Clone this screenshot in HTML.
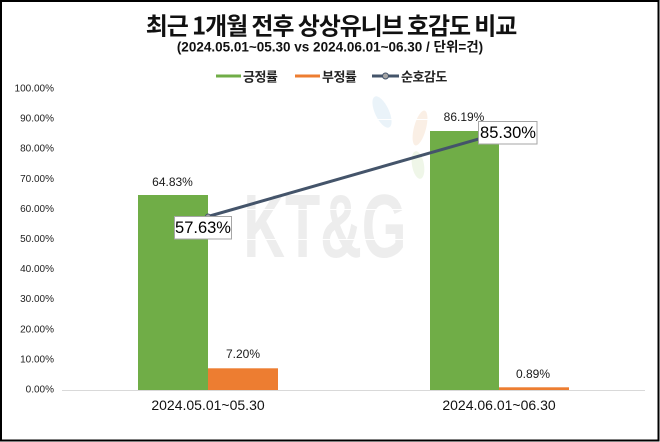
<!DOCTYPE html>
<html>
<head>
<meta charset="utf-8">
<style>
html,body{margin:0;padding:0;background:#fff;}
body{width:660px;height:442px;overflow:hidden;}
svg{display:block;}
.t{font-family:"Liberation Sans","Noto Sans CJK KR",sans-serif;}
.k{font-family:"Noto Sans CJK KR","Liberation Sans",sans-serif;}
</style>
</head>
<body>
<svg width="660" height="442" viewBox="0 0 660 442" xmlns="http://www.w3.org/2000/svg">
  <rect x="0" y="0" width="660" height="442" fill="#fff"/>
  <!-- watermark -->
  <g opacity="0.5">
    <ellipse cx="382" cy="112" rx="7" ry="17" fill="#d6e8f5" transform="rotate(-25 382 112)"/>
    <ellipse cx="420" cy="128" rx="6" ry="18" fill="#f7e0cc" transform="rotate(15 420 128)"/>
    <ellipse cx="418" cy="165" rx="6" ry="14" fill="#e0efd3" transform="rotate(-10 418 165)"/>
  </g>
  <g transform="translate(325 0) scale(0.64 1)">
    <text x="0" y="257" text-anchor="middle" class="t" font-size="90" font-weight="bold" fill="#ededed">KT&amp;G</text>
  </g>
  <!-- gridlines (white over watermark) -->
  <g stroke="#ffffff" stroke-width="1">
    <line x1="62" y1="119.5" x2="645" y2="119.5"/>
    <line x1="62" y1="149.5" x2="645" y2="149.5"/>
    <line x1="62" y1="179.5" x2="645" y2="179.5"/>
    <line x1="62" y1="209.5" x2="645" y2="209.5"/>
    <line x1="62" y1="239.5" x2="645" y2="239.5"/>
    <line x1="62" y1="269.5" x2="645" y2="269.5"/>
  </g>
  <!-- border -->
  <rect x="1" y="1" width="657.5" height="439.5" fill="none" stroke="#000" stroke-width="2"/>

  <!-- title -->
  <text x="331" y="24" text-anchor="middle" dominant-baseline="central" class="k" font-size="24" font-weight="bold" fill="#111" letter-spacing="-1.1">최근 1개월 전후 상상유니브 호감도 비교</text>
  <text x="330" y="47" text-anchor="middle" dominant-baseline="central" class="t" font-size="13.5" font-weight="bold" fill="#111">(2024.05.01~05.30 vs 2024.06.01~06.30 / 단위=건)</text>

  <!-- legend -->
  <rect x="216" y="74.5" width="25" height="3" fill="#70AD47"/>
  <text x="243" y="76" dominant-baseline="central" class="k" font-size="13" font-weight="bold" fill="#222" letter-spacing="-0.5">긍정률</text>
  <rect x="295" y="74.5" width="25" height="3" fill="#ED7D31"/>
  <text x="322" y="76" dominant-baseline="central" class="k" font-size="13" font-weight="bold" fill="#222" letter-spacing="-0.5">부정률</text>
  <line x1="372" y1="76" x2="399" y2="76" stroke="#44546A" stroke-width="3"/>
  <circle cx="385.5" cy="76" r="3" fill="#A5A5A5" stroke="#44546A" stroke-width="1"/>
  <text x="401" y="76" dominant-baseline="central" class="k" font-size="13" font-weight="bold" fill="#222" letter-spacing="-0.5">순호감도</text>

  <!-- y axis labels -->
  <g class="t" font-size="10" fill="#222" text-anchor="end" dominant-baseline="central">
    <text x="54" y="89">100.00%</text>
    <text x="54" y="119.1">90.00%</text>
    <text x="54" y="149.2">80.00%</text>
    <text x="54" y="179.3">70.00%</text>
    <text x="54" y="209.4">60.00%</text>
    <text x="54" y="239.5">50.00%</text>
    <text x="54" y="269.6">40.00%</text>
    <text x="54" y="299.7">30.00%</text>
    <text x="54" y="329.8">20.00%</text>
    <text x="54" y="359.9">10.00%</text>
    <text x="54" y="390">0.00%</text>
  </g>

  <!-- bars -->
  <rect x="138" y="195" width="70" height="195" fill="#70AD47"/>
  <rect x="208" y="368.3" width="70" height="21.7" fill="#ED7D31"/>
  <rect x="430" y="131" width="69" height="259" fill="#70AD47"/>
  <rect x="499" y="387.3" width="70" height="2.7" fill="#ED7D31"/>

  <!-- axis line -->
  <line x1="62" y1="390.5" x2="645" y2="390.5" stroke="#D9D9D9" stroke-width="1"/>

  <!-- data labels -->
  <g class="t" font-size="12" fill="#1a1a1a" text-anchor="middle" dominant-baseline="central">
    <text x="172.5" y="182">64.83%</text>
    <text x="243" y="354">7.20%</text>
    <text x="464" y="117">86.19%</text>
    <text x="533" y="374">0.89%</text>
  </g>

  <!-- line series -->
  <line x1="208" y1="216.5" x2="499" y2="133.2" stroke="#44546A" stroke-width="3" stroke-linecap="round"/>
  <circle cx="208" cy="216.5" r="2.5" fill="#A5A5A5" stroke="#44546A" stroke-width="1"/>
  <circle cx="499" cy="133.2" r="2.5" fill="#A5A5A5" stroke="#44546A" stroke-width="1"/>

  <!-- line labels -->
  <rect x="174.5" y="216.5" width="57" height="22.5" fill="#fff" stroke="#A6A6A6" stroke-width="1"/>
  <text x="203" y="228" text-anchor="middle" dominant-baseline="central" class="t" font-size="16.5" fill="#000">57.63%</text>
  <rect x="478.5" y="121.5" width="58.5" height="22.5" fill="#fff" stroke="#A6A6A6" stroke-width="1"/>
  <text x="508" y="133" text-anchor="middle" dominant-baseline="central" class="t" font-size="16.5" fill="#000">85.30%</text>

  <!-- category labels -->
  <g class="t" font-size="14" fill="#111" text-anchor="middle" dominant-baseline="central">
    <text x="208" y="405">2024.05.01~05.30</text>
    <text x="499" y="405">2024.06.01~06.30</text>
  </g>
</svg>
</body>
</html>
